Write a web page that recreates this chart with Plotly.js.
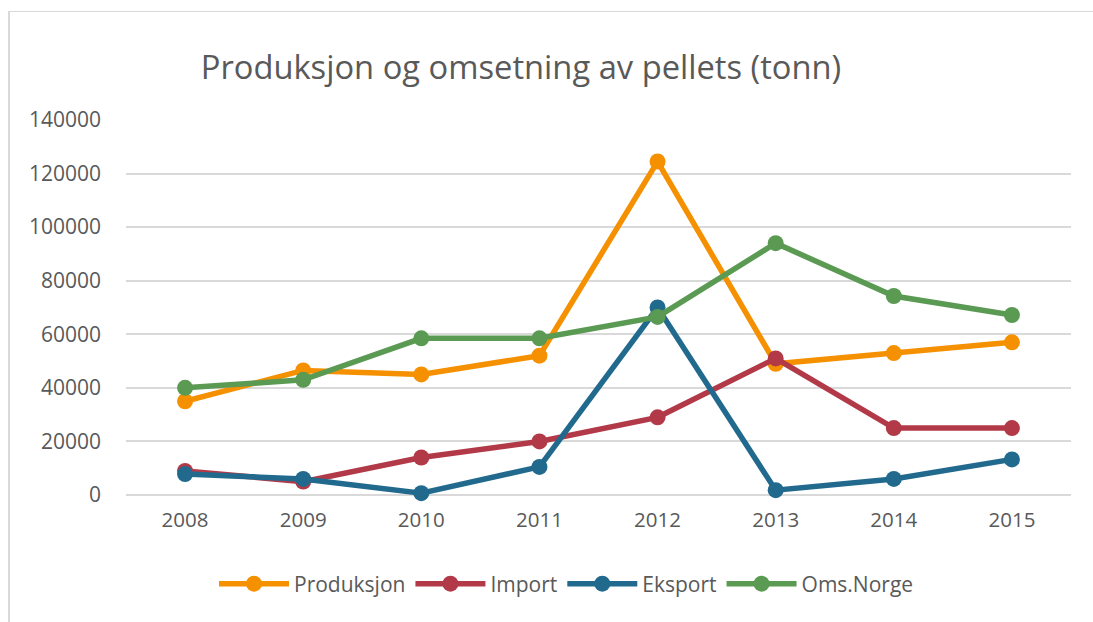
<!DOCTYPE html>
<html>
<head>
<meta charset="utf-8">
<script src="https://cdn.plot.ly/plotly-3.0.1.min.js"></script>
<style>
  html, body { margin: 0; padding: 0; background: #ffffff; }
  #wrap { position: relative; width: 1093px; height: 622px; }
  #chart { position: absolute; left: 0; top: 0; width: 1093px; height: 622px; }
  #frame { position: absolute; left: 8px; top: 11px; width: 1100px; height: 700px;
           border-left: 2px solid #d9d9d9; border-top: 1px solid #d9d9d9; pointer-events: none; }
</style>
</head>
<body>
<div id="wrap">
  <div id="chart"></div>
  <div id="frame"></div>
</div>
<script>
const years = ["2008", "2009", "2010", "2011", "2012", "2013", "2014", "2015"];
const produksjon = [35000, 46500, 45000, 52000, 124500, 49000, 53000, 57000];
const importVals = [9000, 5000, 14000, 20000, 29000, 51000, 25000, 25000];
const eksport = [7800, 6000, 700, 10500, 70000, 1800, 6000, 13300];
const omsNorge = [40000, 43000, 58500, 58500, 66500, 94000, 74300, 67200];
const yTicks = [0, 20000, 40000, 60000, 80000, 100000, 120000, 140000];

const seriesNames = ["Produksjon", "Import", "Eksport", "Oms.Norge"];
const seriesData = [produksjon, importVals, eksport, omsNorge];
const seriesColors = ["#F59100", "#B23A48", "#216A8E", "#5B9A53"];

const traces = seriesNames.map((name, i) => ({
  type: "scatter",
  mode: "lines+markers",
  name: name,
  x: years,
  y: seriesData[i],
  line: { color: seriesColors[i], width: 5.5 },
  marker: { color: seriesColors[i], size: 16 },
  cliponaxis: false
}));

const font = "'Open Sans', 'Liberation Sans', sans-serif";

const layout = {
  width: 1093,
  height: 622,
  paper_bgcolor: "rgba(0,0,0,0)",
  plot_bgcolor: "rgba(0,0,0,0)",
  margin: { l: 126, r: 22, t: 120, b: 127, pad: 0 },
  title: {
    text: "Produksjon og omsetning av pellets (tonn)",
    font: { family: font, size: 32.7, color: "#595959" },
    x: 521 / 1093,
    xanchor: "center",
    xref: "container",
    y: 1 - 68 / 622,
    yanchor: "middle",
    yref: "container"
  },
  xaxis: {
    type: "category",
    range: [-0.5, 7.5],
    showgrid: false,
    zeroline: false,
    showline: false,
    ticks: "",
    tickfont: { family: font, size: 20.5, color: "#595959" },
    ticklabelstandoff: 10,
    fixedrange: true
  },
  yaxis: {
    range: [0, 140000],
    tickvals: yTicks,
    ticktext: yTicks.map(String),
    showgrid: true,
    gridcolor: "#d9d9d9",
    gridwidth: 2,
    zeroline: true,
    zerolinecolor: "#d9d9d9",
    zerolinewidth: 2,
    showline: false,
    ticks: "",
    tickfont: { family: font, size: 21, color: "#595959" },
    ticklabelstandoff: 24,
    fixedrange: true
  },
  showlegend: true,
  legend: {
    orientation: "h",
    xref: "container",
    yref: "container",
    x: 214 / 1093,
    xanchor: "left",
    y: 1 - 584 / 622,
    yanchor: "middle",
    font: { family: font, size: 21, color: "#595959" },
    itemwidth: 70,
    traceorder: "normal"
  }
};

Plotly.newPlot("chart", traces, layout, { displayModeBar: false, staticPlot: true });
</script>
</body>
</html>
